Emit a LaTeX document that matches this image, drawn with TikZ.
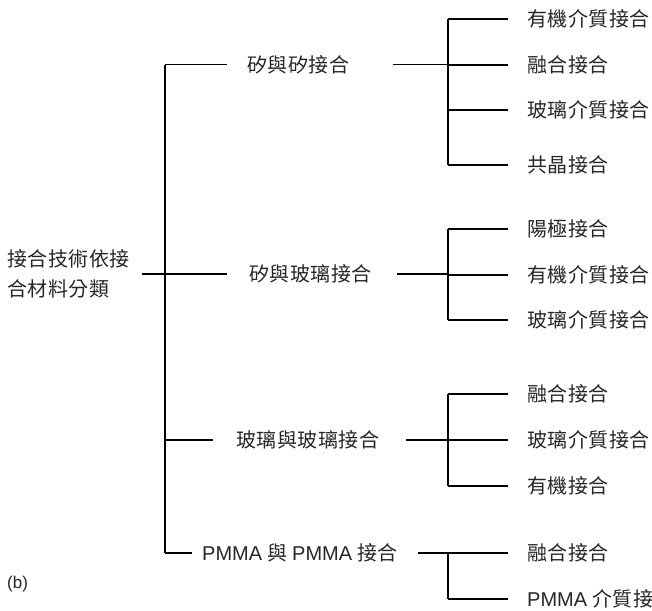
\documentclass[tikz,border=0pt]{standalone}
\usepackage{fontspec}
\setmainfont{Liberation Sans}
\newfontfamily\cjk[LetterSpace=2.5]{Noto Sans CJK TC}
\newfontfamily\lat{Liberation Sans}
\begin{document}
\begin{tikzpicture}[x=1pt,y=-1pt,
  lbl/.style={anchor=west,inner sep=0pt,font=\cjk\fontsize{20}{29.5}\selectfont,text=black!85},
  ln/.style={line width=1.8pt,black}]
\useasboundingbox (0,0) rectangle (652,610);
% root
\node[lbl,align=left] (root) at (7,274) {接合技術依接\\合材料分類};
\node[lbl,font=\lat\fontsize{17}{20}\selectfont] (b) at (7,584) {(b)};
% branch labels
\node[lbl] (b1) at (247,64.5) {矽與矽接合};
\node[lbl] (b2) at (249,274) {矽與玻璃接合};
\node[lbl] (b3) at (236,440) {玻璃與玻璃接合};
\node[lbl] (b4) at (202,553) {{\lat PMMA} 與 {\lat PMMA} 接合};
% children
\node[lbl] (c11) at (527,19) {有機介質接合};
\node[lbl] (c12) at (527,65) {融合接合};
\node[lbl] (c13) at (527,110) {玻璃介質接合};
\node[lbl] (c14) at (527,165) {共晶接合};
\node[lbl] (c21) at (527,229) {陽極接合};
\node[lbl] (c22) at (527,275) {有機介質接合};
\node[lbl] (c23) at (527,320) {玻璃介質接合};
\node[lbl] (c31) at (527,394) {融合接合};
\node[lbl] (c32) at (527,440) {玻璃介質接合};
\node[lbl] (c33) at (527,486) {有機接合};
\node[lbl] (c41) at (527,553) {融合接合};
\node[lbl] (c42) at (527,599) {{\lat PMMA} 介質接合};
% coordinates
\coordinate (r0) at (142,274);
\coordinate (t1) at (165,64.5);
\coordinate (t2) at (165,274);
\coordinate (t3) at (165,440);
\coordinate (t4) at (165,553);
\coordinate (l1) at (227,64.5);
\coordinate (l2) at (227,274);
\coordinate (l3) at (213,440);
\coordinate (l4) at (192,553);
\coordinate (q1) at (393,64.5);
\coordinate (q2) at (397,274);
\coordinate (q3) at (406,440);
\coordinate (q4) at (418,553);
\coordinate (s1) at (448,64.5);
\coordinate (s2) at (448,274);
\coordinate (s3) at (448,440);
\coordinate (s4) at (448,553);
% trunk
\draw[ln] (t1) -- (t4);
\draw[ln] (r0) -- (t2);
\foreach \i in {1,2,3,4}{
  \draw[ln] (t\i) -- (l\i);
  \draw[ln] (q\i) -- (s\i);
}
% sub trunks
\draw[ln] (s1 |- c11) -- (s1 |- c14);
\draw[ln] (s2 |- c21) -- (s2 |- c23);
\draw[ln] (s3 |- c31) -- (s3 |- c33);
\draw[ln] (s4 |- c41) -- (s4 |- c42);
% child lines
\foreach \c/\s in {c11/s1,c12/s1,c13/s1,c14/s1,c21/s2,c22/s2,c23/s2,c31/s3,c32/s3,c33/s3,c41/s4,c42/s4}{
  \draw[ln] (\s |- \c) -- ([xshift=-19pt]\c.west);
}
\end{tikzpicture}
\end{document}
